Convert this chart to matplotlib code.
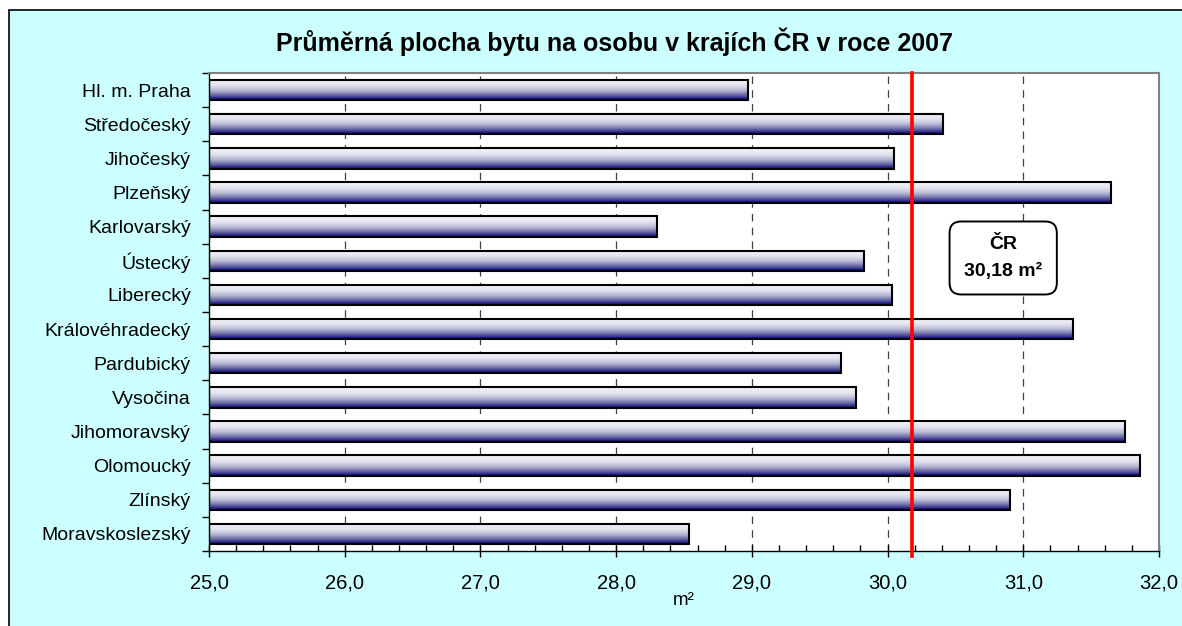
import numpy as np
import matplotlib
matplotlib.use('Agg')
import matplotlib.pyplot as plt
from matplotlib.colors import LinearSegmentedColormap
from matplotlib.patches import Rectangle

plt.rcParams['font.family'] = ['Liberation Sans', 'DejaVu Sans']

regions = ['Hl. m. Praha', 'Středočeský', 'Jihočeský', 'Plzeňský', 'Karlovarský',
           'Ústecký', 'Liberecký', 'Královéhradecký', 'Pardubický', 'Vysočina',
           'Jihomoravský', 'Olomoucký', 'Zlínský', 'Moravskoslezský']
area = [28.97, 30.41, 30.05, 31.65, 28.30, 29.83, 30.03,
        31.37, 29.66, 29.77, 31.75, 31.86, 30.90, 28.54]
cr_avg = 30.18
xticks = [25, 26, 27, 28, 29, 30, 31, 32]
xlabels = ['25,0', '26,0', '27,0', '28,0', '29,0', '30,0', '31,0', '32,0']

fig = plt.figure(figsize=(11.82, 6.26), dpi=100)
fig.patches.append(Rectangle((9/1182, -0.05), 1.2, 1 - 10/626 + 0.05,
                             transform=fig.transFigure, facecolor='#ccffff',
                             edgecolor='black', linewidth=1.2, zorder=-10))

ax = fig.add_axes([209/1182, 1 - 551/626, 950/1182, 478/626])
ax.set_facecolor('white')

y = np.arange(len(regions))
bars = ax.barh(y, [v - 25 for v in area], left=25, height=0.6,
               facecolor='none', edgecolor='black', linewidth=1.5, zorder=3)

# gradient fill for each bar: light on top, navy at the bottom
cmap = LinearSegmentedColormap.from_list('bar', [
    (0.0, '#f4f4f8'), (0.3, '#e2e2ee'), (0.55, '#b4b4d2'),
    (0.8, '#5c5c9e'), (1.0, '#000078')])
grad = np.linspace(0, 1, 64).reshape(-1, 1)
for b in bars:
    x0, y0 = b.get_x(), b.get_y()
    w, h = b.get_width(), b.get_height()
    ax.imshow(grad, cmap=cmap, aspect='auto', extent=(x0, x0 + w, y0 + h, y0),
              zorder=2, interpolation='bilinear')

ax.set_xlim(25, 32)
ax.set_ylim(len(regions) - 0.5, -0.5)

ax.axvline(cr_avg, ymin=-0.01, ymax=1, color='#ff0000', linewidth=2.6,
           zorder=4, clip_on=False)

for xv in xticks[1:-1]:
    ax.axvline(xv, color='#404040', linewidth=0.9, dashes=(6, 5), zorder=1)

ax.set_xticks(xticks)
ax.set_xticklabels(xlabels, fontsize=14.5)
ax.set_xticks(np.arange(25, 32.01, 0.2), minor=True)
ax.tick_params(axis='x', which='major', direction='inout', length=8, width=1, pad=12)
ax.tick_params(axis='x', which='minor', direction='in', length=4, width=1)

ax.set_yticks(y)
ax.set_yticklabels(regions, fontsize=14)
ax.set_yticks(np.arange(-0.5, len(regions)), minor=True)
ax.tick_params(axis='y', which='major', length=0, pad=13)
ax.tick_params(axis='y', which='minor', direction='out', length=5, width=1)

ax.set_xlabel('m²', fontsize=13.5, labelpad=0)

for s in ('top', 'right'):
    ax.spines[s].set_color('#808080')
    ax.spines[s].set_linewidth(1.5)
for s in ('left', 'bottom'):
    ax.spines[s].set_color('black')
    ax.spines[s].set_linewidth(1)

ax.text(0.836, 0.613, 'ČR\n30,18 m²', transform=ax.transAxes, ha='center',
        va='center', fontsize=14, fontweight='bold', linespacing=1.75, zorder=5,
        bbox=dict(boxstyle='round,pad=0.75,rounding_size=0.6', facecolor='white',
                  edgecolor='black', linewidth=1.4))

fig.text(615/1182, 1 - 42/626, 'Průměrná plocha bytu na osobu v krajích ČR v roce 2007',
         ha='center', va='center', fontsize=18, fontweight='bold')

fig.savefig('out.png', dpi=100)
